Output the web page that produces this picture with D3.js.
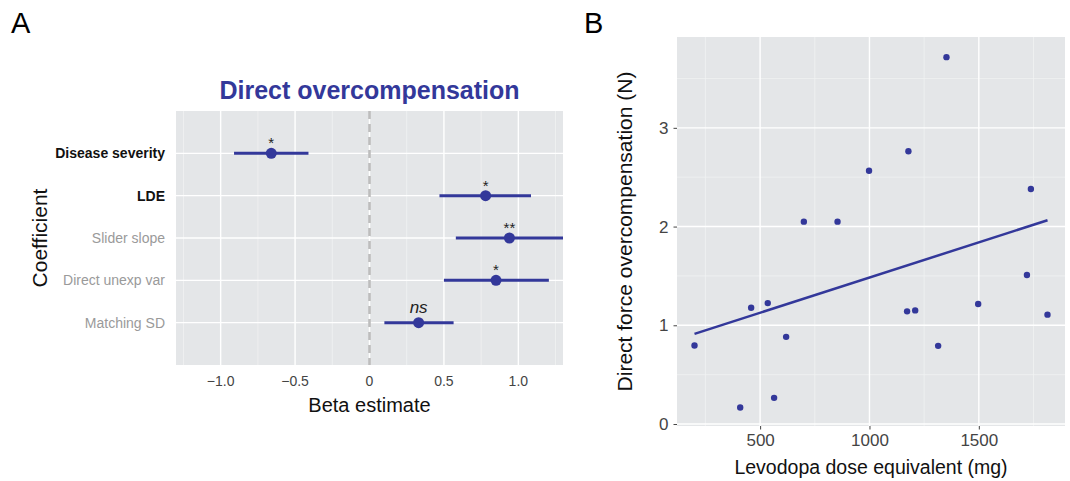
<!DOCTYPE html>
<html><head><meta charset="utf-8">
<script src="https://cdn.jsdelivr.net/npm/d3@7/dist/d3.min.js"></script>
<style>body{margin:0;background:#fff;}svg{display:block;font-family:"Liberation Sans",Arial,sans-serif;}</style>
</head><body>
<svg id="c" width="1070" height="481"></svg>
<script>
// ---------- Panel A data ----------
const coefNames = ["Disease severity","LDE","Slider slope","Direct unexp var","Matching SD"];
const coefBold = [true,true,false,false,false];
const betaEst = [-0.66, 0.78, 0.94, 0.85, 0.33];
const ciLow = [-0.91, 0.47, 0.58, 0.50, 0.10];
const ciHigh = [-0.41, 1.085, 1.45, 1.205, 0.565];
const sigLabels = ["*","*","**","*","ns"];
const betaTicks = [-1.0,-0.5,0,0.5,1.0];
const betaTickLabels = ["\u22121.0","\u22120.5","0","0.5","1.0"];

// ---------- Panel B data ----------
const ldeDose = [200,409,459,535,564,619,700,854,998,1178,1172,1209,1314,1352,1497,1720,1738,1814];
const overcomp = [0.796,0.168,1.178,1.225,0.265,0.883,2.05,2.05,2.565,2.763,1.141,1.151,0.792,3.716,1.215,1.51,2.38,1.108];
const fitX = [200,1814];
const fitY = [0.913,2.064];
const doseTicks = [500,1000,1500];
const forceTicks = [0,1,2,3];

const blue = "#33389a";
const panelBg = "#e4e6e8";
const svg = d3.select("#c");

// Panel labels
svg.append("text").attr("x",11).attr("y",33).attr("font-size",29).text("A");
svg.append("text").attr("x",584).attr("y",33).attr("font-size",29).text("B");

// ================= Panel A =================
const A = {l:176,r:563,t:111,b:365};
const xA = d3.scaleLinear().domain([-1.3,1.3]).range([A.l,A.r]);
const yA = d3.scaleLinear().domain([0,6]).range([A.t,A.b]);
const gA = svg.append("g");
gA.append("rect").attr("x",A.l).attr("y",A.t).attr("width",A.r-A.l).attr("height",A.b-A.t).attr("fill",panelBg);
const clipA = svg.append("clipPath").attr("id","clipA");
clipA.append("rect").attr("x",A.l).attr("y",A.t).attr("width",A.r-A.l).attr("height",A.b-A.t);
const minorA = [-1.25,-0.75,-0.25,0.25,0.75,1.25];
gA.selectAll(".mnA").data(minorA).join("line")
  .attr("x1",d=>xA(d)).attr("x2",d=>xA(d)).attr("y1",A.t).attr("y2",A.b)
  .attr("stroke","#f2f3f4").attr("stroke-width",0.7);
gA.selectAll(".mjA").data(betaTicks).join("line")
  .attr("x1",d=>xA(d)).attr("x2",d=>xA(d)).attr("y1",A.t).attr("y2",A.b)
  .attr("stroke","#fff").attr("stroke-width",1.4);
gA.selectAll(".hA").data(coefNames).join("line")
  .attr("x1",A.l).attr("x2",A.r).attr("y1",(d,i)=>yA(i+1)).attr("y2",(d,i)=>yA(i+1))
  .attr("stroke","#fff").attr("stroke-width",1.4);
// zero dashed line
gA.append("line").attr("x1",xA(0)).attr("x2",xA(0)).attr("y1",A.t).attr("y2",A.b)
  .attr("stroke","#bdbdbd").attr("stroke-width",2.6).attr("stroke-dasharray","8,5");
// CIs
const gm = gA.append("g").attr("clip-path","url(#clipA)");
gm.selectAll(".ci").data(coefNames).join("line")
  .attr("x1",(d,i)=>xA(ciLow[i])).attr("x2",(d,i)=>xA(ciHigh[i]))
  .attr("y1",(d,i)=>yA(i+1)).attr("y2",(d,i)=>yA(i+1))
  .attr("stroke",blue).attr("stroke-width",3);
gm.selectAll(".pt").data(coefNames).join("circle")
  .attr("cx",(d,i)=>xA(betaEst[i])).attr("cy",(d,i)=>yA(i+1)).attr("r",5.5).attr("fill",blue);
gA.selectAll(".sig").data(sigLabels).join("text")
  .attr("x",(d,i)=>xA(betaEst[i])).attr("y",(d,i)=>d==="ns"? yA(i+1)-10 : yA(i+1)-5)
  .attr("text-anchor","middle")
  .attr("font-size",d=>d==="ns"?17:15)
  .attr("font-style",d=>d==="ns"?"italic":"normal")
  .attr("fill","#222").text(d=>d);
// y labels
gA.selectAll(".yl").data(coefNames).join("text")
  .attr("x",A.l-11).attr("y",(d,i)=>yA(i+1)+5).attr("text-anchor","end")
  .attr("font-size",14).attr("font-weight",(d,i)=>coefBold[i]?"bold":"normal")
  .attr("fill",(d,i)=>coefBold[i]?"#111":"#9a9a9a").text(d=>d);
// x tick labels
gA.selectAll(".xl").data(betaTicks).join("text")
  .attr("x",d=>xA(d)).attr("y",A.b+21).attr("text-anchor","middle")
  .attr("font-size",14).attr("fill","#444").text((d,i)=>betaTickLabels[i]);
// titles
svg.append("text").attr("x",xA(0)).attr("y",99).attr("text-anchor","middle")
  .attr("font-size",25).attr("font-weight","bold").attr("fill",blue).text("Direct overcompensation");
svg.append("text").attr("x",xA(0)).attr("y",412).attr("text-anchor","middle")
  .attr("font-size",20).attr("fill","#111").text("Beta estimate");
svg.append("text").attr("transform",`translate(47,${yA(3)}) rotate(-90)`).attr("text-anchor","middle")
  .attr("font-size",21).attr("fill","#111").text("Coefficient");

// ================= Panel B =================
const B = {l:677,r:1065,t:37,b:426};
const xB = d3.scaleLinear().domain([120,1894]).range([B.l,B.r]);
const yB = d3.scaleLinear().domain([-0.02,3.92]).range([B.b,B.t]);
const gB = svg.append("g");
gB.append("rect").attr("x",B.l).attr("y",B.t).attr("width",B.r-B.l).attr("height",B.b-B.t).attr("fill",panelBg);
const minorBx = [250,750,1250,1750], minorBy = [0.5,1.5,2.5,3.5];
gB.selectAll(".mnx").data(minorBx).join("line")
  .attr("x1",d=>xB(d)).attr("x2",d=>xB(d)).attr("y1",B.t).attr("y2",B.b)
  .attr("stroke","#f2f3f4").attr("stroke-width",0.7);
gB.selectAll(".mny").data(minorBy).join("line")
  .attr("y1",d=>yB(d)).attr("y2",d=>yB(d)).attr("x1",B.l).attr("x2",B.r)
  .attr("stroke","#f2f3f4").attr("stroke-width",0.7);
gB.selectAll(".mjx").data(doseTicks).join("line")
  .attr("x1",d=>xB(d)).attr("x2",d=>xB(d)).attr("y1",B.t).attr("y2",B.b)
  .attr("stroke","#fff").attr("stroke-width",1.4);
gB.selectAll(".mjy").data(forceTicks).join("line")
  .attr("y1",d=>yB(d)).attr("y2",d=>yB(d)).attr("x1",B.l).attr("x2",B.r)
  .attr("stroke","#fff").attr("stroke-width",1.4);
// axes
const axX = gB.append("g").attr("transform",`translate(0,${B.b})`)
  .call(d3.axisBottom(xB).tickValues(doseTicks).tickFormat(d3.format("d")).tickSize(3.5).tickPadding(4));
const axY = gB.append("g").attr("transform",`translate(${B.l},0)`)
  .call(d3.axisLeft(yB).tickValues(forceTicks).tickFormat(d3.format("d")).tickSize(3.5).tickPadding(5));
[axX,axY].forEach(a=>{
  a.select(".domain").remove();
  a.selectAll(".tick line").attr("stroke","#444");
  a.selectAll(".tick text").attr("font-size",17).attr("fill","#444").attr("font-family","Liberation Sans, Arial, sans-serif");
});
// fit line
gB.append("line").attr("x1",xB(fitX[0])).attr("y1",yB(fitY[0])).attr("x2",xB(fitX[1])).attr("y2",yB(fitY[1]))
  .attr("stroke",blue).attr("stroke-width",2.5);
gB.selectAll(".dot").data(ldeDose).join("circle")
  .attr("cx",d=>xB(d)).attr("cy",(d,i)=>yB(overcomp[i])).attr("r",3.2).attr("fill",blue);
svg.append("text").attr("x",(B.l+B.r)/2).attr("y",474).attr("text-anchor","middle")
  .attr("font-size",19.5).attr("fill","#111").text("Levodopa dose equivalent (mg)");
svg.append("text").attr("transform",`translate(632,${(B.t+B.b)/2}) rotate(-90)`).attr("text-anchor","middle")
  .attr("font-size",21).attr("fill","#111").text("Direct force overcompensation (N)");
</script>
</body></html>
